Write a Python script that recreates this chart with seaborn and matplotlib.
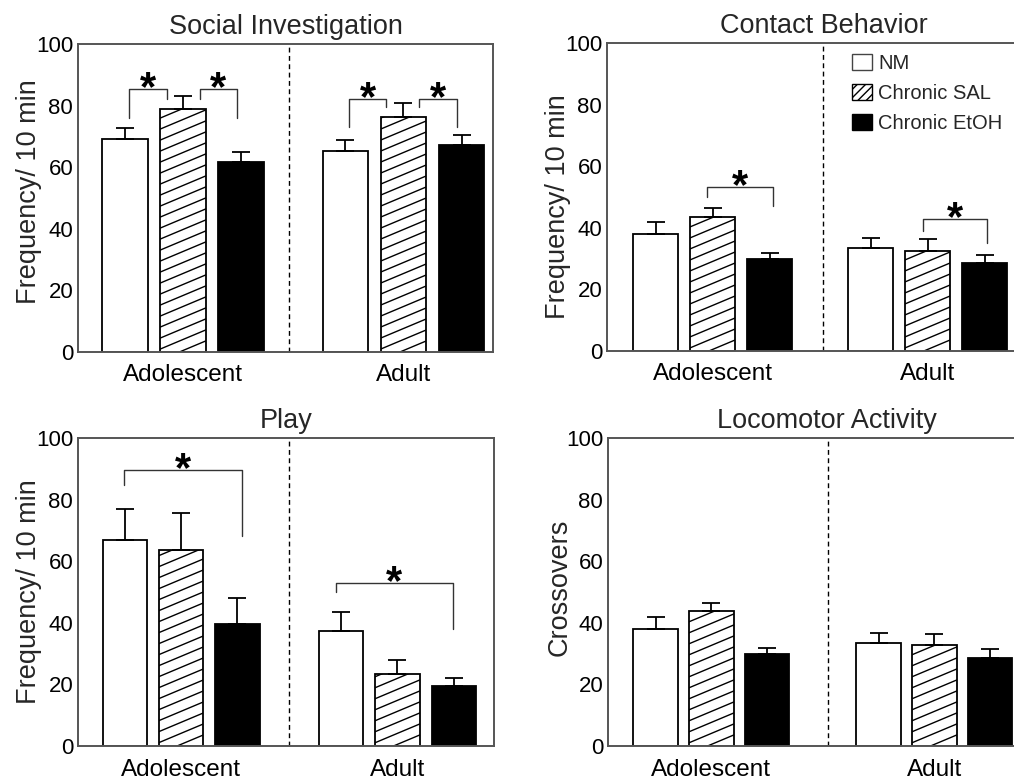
import numpy as np
import pandas as pd
import matplotlib
matplotlib.use("Agg")
import matplotlib.pyplot as plt
from matplotlib.patches import Patch
import seaborn as sns

# ---- data -----------------------------------------------------------------
ages = ["Adolescent", "Adult"]
groups = ["NM", "Chronic SAL", "Chronic EtOH"]

# means and SEMs, rows = age, columns = treatment group
social_mean = [[69.2, 78.9, 61.8], [65.3, 76.4, 67.1]]
social_sem = [[3.5, 4.2, 3.2], [3.5, 4.5, 3.3]]
contact_mean = [[37.9, 43.6, 29.8], [33.3, 32.5, 28.5]]
contact_sem = [[3.9, 2.7, 2.0], [3.3, 3.8, 2.7]]
play_mean = [[66.8, 63.6, 39.5], [37.3, 23.3, 19.4]]
play_sem = [[10.2, 12.1, 8.5], [6.1, 4.7, 2.8]]
loco_mean = [[38.0, 43.8, 29.9], [33.5, 32.8, 28.7]]
loco_sem = [[3.8, 2.7, 2.0], [3.2, 3.6, 2.8]]

titles = ["Social Investigation", "Contact Behavior", "Play", "Locomotor Activity"]
ylabels = ["Frequency/ 10 min", "Frequency/ 10 min", "Frequency/ 10 min", "Crossovers"]
yticks = [0, 20, 40, 60, 80, 100]

# ---- styling / layout -----------------------------------------------------
sns.set_style("white")
plt.rcParams["font.family"] = ["Liberation Sans", "DejaVu Sans"]

W, H = 1014, 783
fig = plt.figure(figsize=(W / 100, H / 100), dpi=100)

# axes boxes in pixels: left, right, top, bottom
boxes = [(78, 493, 44, 352), (607, 1040, 43, 351),
         (78, 494, 438, 746), (608, 1045, 438, 746)]
xlims = [(-0.476, 1.406), (-0.491, 1.523), (-0.476, 1.446), (-0.464, 1.496)]
dividers = [0.48, 0.514, 0.499, 0.522]
bar_width = [0.79, 0.795, 0.78, 0.75]
bar_gap = [0.22, 0.21, 0.21, 0.20]
ylabel_y = [0.52, 0.47, 0.5, 0.515]

# significance brackets: (age index, x left, x right, top, left leg end, right leg end)
brackets = [
    [(0, -0.245, -0.073, 85.3, 76.0, 82.0), (0, 0.077, 0.245, 85.3, 82.0, 76.0),
     (1, -0.247, -0.079, 82.3, 73.0, 79.5), (1, 0.070, 0.243, 82.3, 79.5, 73.0)],
    [(0, -0.026, 0.281, 53.1, 50.0, 47.0), (1, -0.021, 0.277, 42.8, 39.0, 35.0)],
    [(0, -0.263, 0.282, 89.5, 84.8, 68.2), (1, -0.284, 0.256, 53.0, 50.0, 37.9)],
    [],
]

means = [social_mean, contact_mean, play_mean, loco_mean]
sems = [social_sem, contact_sem, play_sem, loco_sem]
palette = {"NM": "white", "Chronic SAL": "white", "Chronic EtOH": "black"}
spine_color = "#555555"

for i in range(4):
    l, r, t, b = boxes[i]
    ax = fig.add_axes([l / W, 1 - b / H, (r - l) / W, (b - t) / H])

    df = pd.DataFrame({
        "age": np.repeat(ages, len(groups)),
        "group": groups * len(ages),
        "value": np.ravel(means[i]),
        "sem": np.ravel(sems[i]),
    })
    sns.barplot(data=df, x="age", y="value", hue="group", order=ages,
                hue_order=groups, palette=palette, edgecolor="black",
                linewidth=1.3, errorbar=None, width=bar_width[i],
                gap=bar_gap[i], legend=False, ax=ax, zorder=2)

    ax.set_xlim(*xlims[i])
    ax.set_ylim(0, 100)
    ax.set_yticks(yticks)

    # pixel scale of the data coordinates, for the custom hatch
    pxx = (r - l) / (xlims[i][1] - xlims[i][0])
    pxy = (b - t) / 100.0
    slope = 0.42 * pxx / pxy
    step = 11.0 / pxy

    bar_sets = list(ax.containers)
    for gi, cont in enumerate(bar_sets):
        for ai, bar in enumerate(cont):
            xc = bar.get_x() + bar.get_width() / 2
            h = bar.get_height()
            err = df[(df.age == ages[ai]) & (df.group == groups[gi])]["sem"].iloc[0]
            ax.errorbar(xc, h, yerr=[[0], [err]], fmt="none", ecolor="black",
                        elinewidth=1.3, capsize=6.5, capthick=1.3, zorder=3)
            if groups[gi] == "Chronic SAL":
                x0 = bar.get_x()
                bw = bar.get_width()
                xs = np.array([x0 - 0.01, x0 + bw + 0.01])
                for off in np.arange(-slope * bw, h + step, step):
                    ln, = ax.plot(xs, off + slope * (xs - x0), color="black",
                                  lw=1.0, zorder=2.5, solid_capstyle="butt")
                    ln.set_clip_path(bar)

    # dashed separator between the age groups
    ax.axvline(dividers[i], color="black", lw=1.0, ls=(0, (3.5, 2.5)), zorder=1)

    # significance brackets and asterisks
    for ai, xl, xr, top, lb, rb in brackets[i]:
        ax.plot([ai + xl, ai + xl, ai + xr, ai + xr], [lb, top, top, rb],
                color="#333333", lw=1.0, zorder=4)
        ax.annotate("*", xy=(ai + (xl + xr) / 2, top), xytext=(0, -8),
                    textcoords="offset points", ha="center", va="baseline",
                    fontsize=30, fontweight="bold", color="black")

    for sp in ax.spines.values():
        sp.set_visible(True)
        sp.set_color(spine_color)
        sp.set_linewidth(1.4)

    ax.tick_params(axis="both", length=0, colors="black")
    ax.tick_params(axis="y", labelsize=16, pad=3.5)
    ax.tick_params(axis="x", labelsize=17.5, pad=9)
    ax.set_xlabel("")
    ax.set_ylabel(ylabels[i], fontsize=19.5, labelpad=-4.5)
    ax.yaxis.label.set_y(ylabel_y[i])
    ax.set_title(titles[i], fontsize=19.5, pad=7)

handles = [
    Patch(facecolor="white", edgecolor="#444444", linewidth=1.0, label="NM"),
    Patch(facecolor="white", edgecolor="black", linewidth=1.0, hatch="////",
          label="Chronic SAL"),
    Patch(facecolor="black", edgecolor="black", linewidth=1.0, label="Chronic EtOH"),
]
fig.legend(handles=handles, loc="upper left",
           bbox_to_anchor=(852 / W, 1 - 54 / H), frameon=False, fontsize=14.5,
           handlelength=1.0, handleheight=0.85, handletextpad=0.3,
           labelspacing=0.55, borderpad=0, borderaxespad=0)

fig.savefig("out.png", dpi=100)
